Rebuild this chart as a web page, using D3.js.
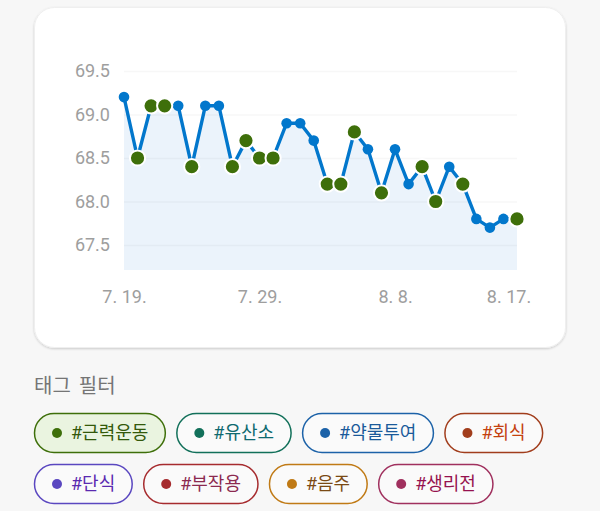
<!DOCTYPE html>
<html lang="ko">
<head>
<meta charset="UTF-8">
<title>체중</title>
<script src="https://cdnjs.cloudflare.com/ajax/libs/d3/7.8.5/d3.min.js"></script>
<style>
  html, body { margin: 0; padding: 0; background: #f7f7f7; overflow: hidden; }
  svg { display: block; }
  text { font-family: Roboto, "Noto Sans CJK KR", sans-serif; }
</style>
</head>
<body>
<svg id="chart" width="600" height="511"></svg>
<script>
const dates = d3.range(0, 30).map(i => new Date(2023, 6, 19 + i));
const weights = [69.2, 68.5, 69.1, 69.1, 69.1, 68.4, 69.1, 69.1, 68.4, 68.7,
                 68.5, 68.5, 68.9, 68.9, 68.7, 68.2, 68.2, 68.8, 68.6, 68.1,
                 68.6, 68.2, 68.4, 68.0, 68.4, 68.2, 67.8, 67.7, 67.8, 67.8];
// days with the #근력운동 tag
const tagged = [1, 2, 3, 5, 8, 9, 10, 11, 15, 16, 17, 19, 22, 23, 25, 29];
const yTicks = [67.5, 68.0, 68.5, 69.0, 69.5];
const xTickIndex = [0, 10, 20, 29];

const tagRows = [
  ["#근력운동", "#유산소", "#약물투여", "#회식"],
  ["#단식", "#부작용", "#음주", "#생리전"]
];
const tagBorder = {"#근력운동": "#3e6f0a", "#유산소": "#12705a", "#약물투여": "#1c62a8", "#회식": "#a13d1c",
                   "#단식": "#5a47c0", "#부작용": "#a62b2e", "#음주": "#c07a15", "#생리전": "#a0305e"};
const tagText = {"#근력운동": "#33590a", "#유산소": "#0f6a70", "#약물투여": "#1a5a9a", "#회식": "#c4420f",
                 "#단식": "#5a2ab0", "#부작용": "#8c2a50", "#음주": "#7a4a15", "#생리전": "#96124f"};

const svg = d3.select("#chart");

const defs = svg.append("defs");
const shadow = defs.append("filter").attr("id", "cardShadow")
  .attr("x", "-5%").attr("y", "-5%").attr("width", "110%").attr("height", "110%");
shadow.append("feDropShadow").attr("dx", 0).attr("dy", 1).attr("stdDeviation", 1.2)
  .attr("flood-color", "#000").attr("flood-opacity", 0.18);

svg.append("rect")
  .attr("x", 34.5).attr("y", 7.5).attr("width", 531).attr("height", 340).attr("rx", 20)
  .attr("fill", "#fff").attr("stroke", "#efefef").attr("stroke-width", 1)
  .attr("filter", "url(#cardShadow)");

const x = d3.scaleLinear().domain([0, dates.length - 1]).range([124, 517]);
const y = d3.scaleLinear().domain([67.5, 69.5]).range([245, 71]);
const baseline = 270;

svg.append("path")
  .datum(weights)
  .attr("fill", "#ebf3fb")
  .attr("d", d3.area().x((d, i) => x(i)).y0(baseline).y1(d => y(d)));

const yAxis = svg.append("g").attr("transform", "translate(124,0)")
  .call(d3.axisLeft(y).tickValues(yTicks).tickFormat(d3.format(".1f")).tickSize(-393).tickPadding(14));
const fmt = i => (dates[i].getMonth() + 1) + ". " + dates[i].getDate() + ".";
const xAxis = svg.append("g").attr("transform", `translate(0,${baseline})`)
  .call(d3.axisBottom(x).tickValues(xTickIndex).tickFormat(fmt).tickSize(0).tickPadding(20));
svg.selectAll(".domain").remove();
yAxis.selectAll("line").attr("stroke", "#000").attr("stroke-opacity", 0.03).attr("stroke-width", 1.5);
svg.selectAll(".tick text").attr("font-size", 18).attr("fill", "#9e9e9e")
  .style("font-family", "Roboto, sans-serif");
// last label is pulled back inside the plot edge
xAxis.selectAll(".tick text").filter(d => d === 29).attr("dx", -8.5);

svg.append("path")
  .datum(weights)
  .attr("fill", "none")
  .attr("stroke", "#0277cc")
  .attr("stroke-width", 3.4)
  .attr("stroke-linejoin", "round")
  .attr("d", d3.line().x((d, i) => x(i)).y(d => y(d)));

svg.append("g").selectAll("circle")
  .data(weights.map((v, i) => ({v, i})).filter(d => !tagged.includes(d.i)))
  .join("circle")
  .attr("cx", d => x(d.i)).attr("cy", d => y(d.v)).attr("r", 5.3)
  .attr("fill", "#0277cc");

svg.append("g").selectAll("circle")
  .data(tagged)
  .join("circle")
  .attr("cx", i => x(i)).attr("cy", i => y(weights[i])).attr("r", 7.6)
  .attr("fill", "#3e6f0a").attr("stroke", "#fff").attr("stroke-width", 2);

svg.append("text")
  .attr("x", 34).attr("y", 393)
  .attr("font-size", 20).attr("word-spacing", 3).attr("fill", "#757575")
  .text("태그 필터");

// tag pills, laid out in rows from the measured text width
tagRows.forEach((row, r) => {
  let left = 34;
  row.forEach((tag, t) => {
    const g = svg.append("g").attr("transform", `translate(${left},${413 + r * 51})`);
    const label = g.append("text")
      .attr("x", 37).attr("y", 20).attr("dy", "0.35em")
      .attr("font-size", 18).attr("fill", tagText[tag]).text(tag);
    const w = label.node().getComputedTextLength() + 37 + 17.5;
    g.insert("rect", "text")
      .attr("x", 0.5).attr("y", 0.5).attr("width", w - 1).attr("height", 39).attr("rx", 19.5)
      .attr("fill", r === 0 && t === 0 ? "#eaf4e0" : "#fafafa")
      .attr("stroke", tagBorder[tag]).attr("stroke-width", 1.5);
    g.insert("circle", "text")
      .attr("cx", 23).attr("cy", 20).attr("r", 5)
      .attr("fill", tagBorder[tag]);
    left += w + 10.5;
  });
});
</script>
</body>
</html>
